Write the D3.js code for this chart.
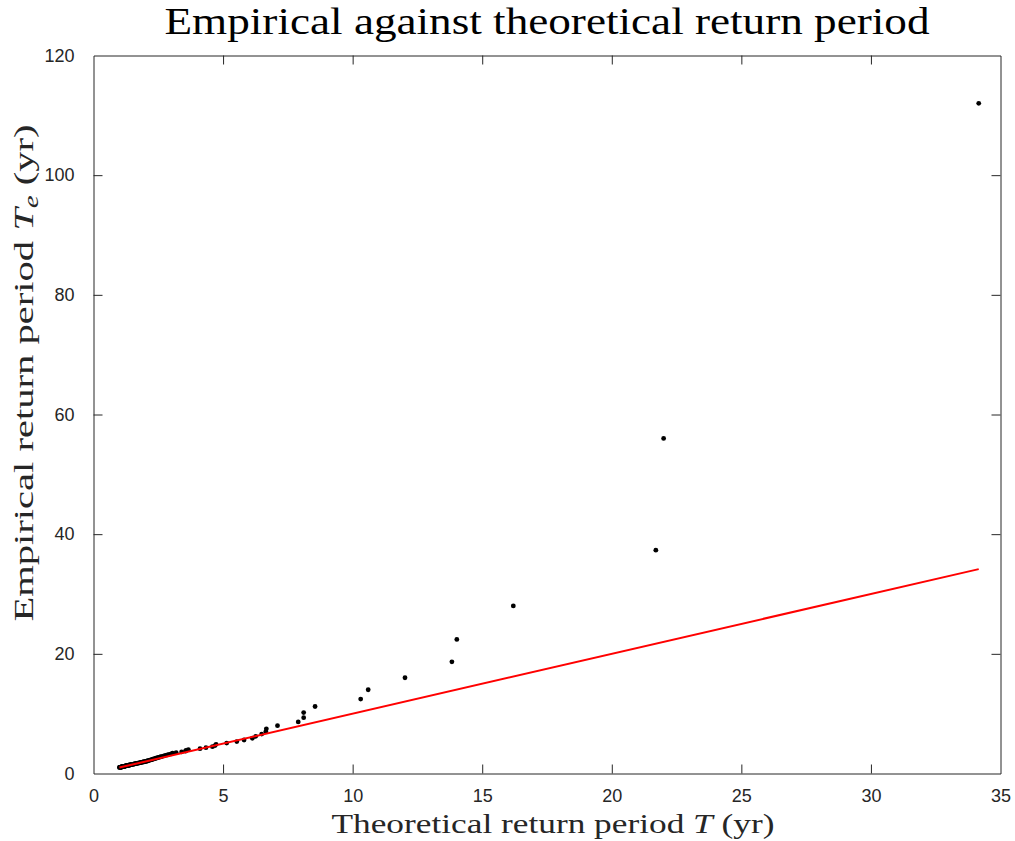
<!DOCTYPE html>
<html>
<head>
<meta charset="utf-8">
<script src="https://cdn.jsdelivr.net/npm/d3@7"></script>
<style>
  html, body { margin: 0; padding: 0; background: #fff; }
  svg { display: block; }
</style>
</head>
<body>
<svg id="chart" width="1015" height="841"></svg>
<script>
// Theoretical return period T (yr) of each ranked event, largest first
const theoretical = [
  34.16, 22.00, 21.70, 16.20, 14.02, 13.83, 12.02, 10.60, 10.31, 8.55,
  8.11, 8.11, 7.90, 7.10, 6.67, 6.65, 6.49, 6.26, 6.13, 5.81,
  5.53, 5.14, 4.73, 4.69, 4.59, 4.34, 4.11, 3.66, 3.57, 3.55,
  3.40, 3.19, 3.05, 3.00, 2.92, 2.85, 2.78, 2.72, 2.66, 2.60,
  2.55, 2.50, 2.45, 2.41, 2.37, 2.33, 2.29, 2.25, 2.22, 2.18,
  2.15, 2.11, 2.08, 2.05, 2.02, 1.99, 1.95, 1.92, 1.89, 1.86,
  1.83, 1.80, 1.77, 1.74, 1.71, 1.68, 1.66, 1.63, 1.60, 1.58,
  1.56, 1.54, 1.51, 1.49, 1.47, 1.45, 1.43, 1.42, 1.40, 1.38,
  1.36, 1.35, 1.33, 1.31, 1.30, 1.28, 1.27, 1.25, 1.24, 1.22,
  1.21, 1.20, 1.19, 1.18, 1.17, 1.15, 1.14, 1.13, 1.12, 1.11,
  1.10, 1.09, 1.08, 1.07, 1.06, 1.05, 1.04, 1.03, 1.02, 1.01,
  1.00
];

// Empirical return period Te (yr) for the same events
const empirical = [
  112.00, 56.00, 37.33, 28.00, 22.40, 18.67, 16.00, 14.00, 12.44, 11.20,
  10.18, 9.33, 8.62, 8.00, 7.47, 7.00, 6.59, 6.22, 5.89, 5.60,
  5.33, 5.09, 4.87, 4.67, 4.48, 4.31, 4.15, 4.00, 3.86, 3.73,
  3.61, 3.50, 3.39, 3.29, 3.20, 3.11, 3.03, 2.95, 2.87, 2.80,
  2.73, 2.67, 2.60, 2.55, 2.49, 2.43, 2.38, 2.33, 2.29, 2.24,
  2.20, 2.15, 2.11, 2.07, 2.04, 2.00, 1.96, 1.93, 1.90, 1.87,
  1.84, 1.81, 1.78, 1.75, 1.72, 1.70, 1.67, 1.65, 1.62, 1.60,
  1.58, 1.56, 1.53, 1.51, 1.49, 1.47, 1.45, 1.44, 1.42, 1.40,
  1.38, 1.37, 1.35, 1.33, 1.32, 1.30, 1.29, 1.27, 1.26, 1.24,
  1.23, 1.22, 1.20, 1.19, 1.18, 1.17, 1.15, 1.14, 1.13, 1.12,
  1.11, 1.10, 1.09, 1.08, 1.07, 1.06, 1.05, 1.04, 1.03, 1.02,
  1.01
];

const xTicks = [0, 5, 10, 15, 20, 25, 30, 35];
const yTicks = [0, 20, 40, 60, 80, 100, 120];

const svg = d3.select("#chart");
const plotLeft = 93.5, plotRight = 1000.5, plotTop = 55.5, plotBottom = 773.5;
const axisColor = "#262626";
const tickLen = 9;

const x = d3.scaleLinear().domain([0, 35]).range([plotLeft, plotRight]);
const y = d3.scaleLinear().domain([0, 120]).range([plotBottom, plotTop]);

// ranked events
svg.append("g").selectAll("circle")
  .data(theoretical.map((t, i) => [t, empirical[i]]))
  .join("circle")
  .attr("cx", d => x(d[0]))
  .attr("cy", d => y(d[1]))
  .attr("r", 2.4)
  .attr("fill", "#000");

// reference line Te = T across the range of T
const tMin = d3.min(theoretical), tMax = d3.max(theoretical);
svg.append("line")
  .attr("x1", x(tMin)).attr("y1", y(tMin))
  .attr("x2", x(tMax)).attr("y2", y(tMax))
  .attr("stroke", "#ff0000").attr("stroke-width", 2);

// axes: inward ticks on all four sides, boxed
const axisFont = "'Liberation Sans', Arial, Helvetica, sans-serif";

const xBottom = svg.append("g").attr("transform", `translate(0,${plotBottom})`)
  .call(d3.axisBottom(x).tickValues(xTicks).tickSizeInner(-tickLen).tickSizeOuter(0).tickPadding(16));
const xTop = svg.append("g").attr("transform", `translate(0,${plotTop})`)
  .call(d3.axisTop(x).tickValues(xTicks).tickSizeInner(-tickLen).tickSizeOuter(0).tickFormat(""));
const yLeft = svg.append("g").attr("transform", `translate(${plotLeft},0)`)
  .call(d3.axisLeft(y).tickValues(yTicks).tickSizeInner(-tickLen).tickSizeOuter(0).tickPadding(19));
const yRight = svg.append("g").attr("transform", `translate(${plotRight},0)`)
  .call(d3.axisRight(y).tickValues(yTicks).tickSizeInner(-tickLen).tickSizeOuter(0).tickFormat(""));

[xBottom, xTop, yLeft, yRight].forEach(g => {
  g.select(".domain").attr("stroke", axisColor).attr("stroke-width", 1);
  g.selectAll(".tick line").attr("stroke", axisColor).attr("stroke-width", 1);
  g.selectAll(".tick text")
    .attr("fill", axisColor)
    .style("font-family", axisFont)
    .style("font-size", "18px");
});
// no tick marks on the box corners
xBottom.selectAll(".tick line").filter(d => d === 0 || d === 35).remove();
xTop.selectAll(".tick line").filter(d => d === 0 || d === 35).remove();
yLeft.selectAll(".tick line").filter(d => d === 0 || d === 120).remove();
yRight.selectAll(".tick line").filter(d => d === 0 || d === 120).remove();

// titles in a LaTeX-like serif
const serif = "'Liberation Serif', 'DejaVu Serif', serif";

svg.append("text")
  .attr("x", 547).attr("y", 34)
  .attr("text-anchor", "middle")
  .attr("textLength", 765).attr("lengthAdjust", "spacingAndGlyphs")
  .style("font-family", serif).style("font-size", "37px").attr("fill", "#000")
  .text("Empirical against theoretical return period");

const xl = svg.append("text")
  .attr("x", 553).attr("y", 833)
  .attr("text-anchor", "middle")
  .attr("textLength", 443).attr("lengthAdjust", "spacingAndGlyphs")
  .style("font-family", serif).style("font-size", "28px").attr("fill", "#262626");
xl.append("tspan").text("Theoretical return period ");
xl.append("tspan").style("font-style", "italic").text("T");
xl.append("tspan").text(" (yr)");

const yl = svg.append("text")
  .attr("transform", "translate(33,373) rotate(-90)")
  .attr("text-anchor", "middle")
  .attr("textLength", 497).attr("lengthAdjust", "spacingAndGlyphs")
  .style("font-family", serif).style("font-size", "28px").attr("fill", "#262626");
yl.append("tspan").text("Empirical return period ");
yl.append("tspan").style("font-style", "italic").text("T");
yl.append("tspan").style("font-style", "italic").style("font-size", "20px").attr("dy", 5).text("e");
yl.append("tspan").attr("dy", -5).text(" (yr)");
</script>
</body>
</html>
